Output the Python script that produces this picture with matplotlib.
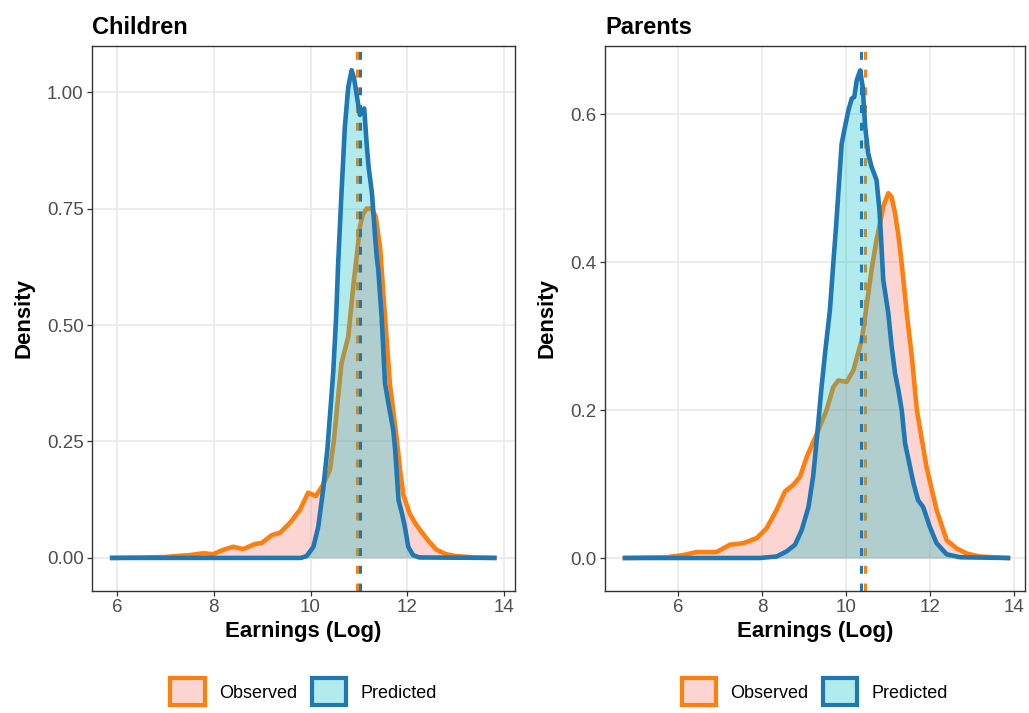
import numpy as np
import matplotlib
matplotlib.use('Agg')
import matplotlib.pyplot as plt
from matplotlib.patches import Patch
from matplotlib.colors import to_rgba

plt.rcParams['font.family'] = ['Liberation Sans', 'DejaVu Sans']

# Children: log earnings density (observed vs predicted)
child_obs_x = [5.90, 6.50, 7.00, 7.20, 7.50, 7.78, 7.99, 8.16, 8.40, 8.61, 8.85, 8.99,
               9.20, 9.37, 9.58, 9.78, 9.95, 10.11, 10.26, 10.40, 10.48, 10.56, 10.64,
               10.78, 10.89, 10.97, 11.02, 11.08, 11.16, 11.27, 11.35, 11.44, 11.54,
               11.64, 11.78, 11.85, 11.92, 12.05, 12.18, 12.30, 12.45, 12.60, 12.80,
               13.00, 13.40, 13.80]
child_obs_y = [0.000, 0.001, 0.002, 0.004, 0.006, 0.010, 0.008, 0.016, 0.024, 0.019, 0.030, 0.032,
               0.049, 0.054, 0.076, 0.103, 0.140, 0.133, 0.157, 0.189, 0.250, 0.335, 0.418,
               0.475, 0.590, 0.661, 0.711, 0.737, 0.750, 0.750, 0.732, 0.665, 0.518,
               0.375, 0.258, 0.190, 0.135, 0.095, 0.072, 0.055, 0.035, 0.018, 0.008,
               0.004, 0.001, 0.000]
child_pred_x = [5.90, 9.80, 9.92, 10.06, 10.16, 10.26, 10.35, 10.42, 10.47, 10.53, 10.57,
                10.64, 10.71, 10.78, 10.85, 10.90, 10.95, 11.02, 11.07, 11.11, 11.16, 11.20,
                11.27, 11.33, 11.37, 11.40, 11.47, 11.54, 11.61, 11.71, 11.75, 11.82, 11.89,
                11.95, 12.02, 12.12, 12.25, 13.80]
child_pred_y = [0.000, 0.000, 0.004, 0.024, 0.067, 0.146, 0.235, 0.330, 0.400, 0.518, 0.630,
                0.783, 0.926, 1.011, 1.047, 1.030, 0.997, 0.951, 0.960, 0.965, 0.890, 0.840,
                0.783, 0.697, 0.645, 0.620, 0.518, 0.375, 0.332, 0.275, 0.232, 0.124, 0.096,
                0.067, 0.024, 0.006, 0.001, 0.000]
child_means = [10.97, 11.02]  # observed, predicted

# Parents
parent_obs_x = [4.73, 5.72, 6.12, 6.44, 6.91, 7.23, 7.55, 7.87, 8.10, 8.34, 8.54, 8.74,
                8.90, 9.06, 9.30, 9.53, 9.69, 9.81, 10.01, 10.17, 10.37, 10.49, 10.60,
                10.72, 10.80, 10.88, 11.00, 11.08, 11.16, 11.24, 11.32, 11.44, 11.56,
                11.68, 11.91, 12.15, 12.39, 12.63, 12.87, 13.18, 13.85]
parent_obs_y = [0.000, 0.001, 0.004, 0.008, 0.008, 0.018, 0.020, 0.027, 0.040, 0.065, 0.090, 0.099,
                0.110, 0.137, 0.168, 0.200, 0.231, 0.240, 0.238, 0.254, 0.295, 0.344, 0.389,
                0.430, 0.452, 0.475, 0.493, 0.488, 0.466, 0.436, 0.398, 0.331, 0.272,
                0.200, 0.123, 0.065, 0.024, 0.013, 0.006, 0.002, 0.000]
parent_pred_x = [4.73, 7.94, 8.34, 8.58, 8.78, 8.94, 9.10, 9.21, 9.31, 9.40, 9.50, 9.61,
                 9.69, 9.75, 9.81, 9.89, 9.97, 10.05, 10.13, 10.19, 10.25, 10.33, 10.39,
                 10.45, 10.52, 10.60, 10.72, 10.79, 10.82, 10.88, 11.00, 11.08, 11.16,
                 11.24, 11.32, 11.40, 11.60, 11.71, 11.83, 11.99, 12.15, 12.39, 12.71, 13.85]
parent_pred_y = [0.000, 0.000, 0.002, 0.009, 0.018, 0.038, 0.069, 0.110, 0.168, 0.225, 0.280, 0.335,
                 0.398, 0.443, 0.493, 0.560, 0.583, 0.605, 0.621, 0.623, 0.646, 0.659, 0.637,
                 0.583, 0.547, 0.529, 0.511, 0.470, 0.440, 0.376, 0.331, 0.286, 0.250,
                 0.227, 0.200, 0.155, 0.101, 0.078, 0.069, 0.042, 0.020, 0.005, 0.001, 0.000]
parent_means = [10.45, 10.35]

x_ticks = [6, 8, 10, 12, 14]
child_y_ticks = [0.00, 0.25, 0.50, 0.75, 1.00]
child_y_labels = ['0.00', '0.25', '0.50', '0.75', '1.00']
parent_y_ticks = [0.0, 0.2, 0.4, 0.6]
parent_y_labels = ['0.0', '0.2', '0.4', '0.6']
groups = ['Observed', 'Predicted']

line_cols = ['#FF7F0E', '#1F77B4']
fill_cols = ['#F8766D', '#00BFC4']


def density_panel(ax, title, series, means, xlim, ylim, yticks, ylabels):
    # each group is drawn fully (fill, outline, mean line) before the next one
    for i, ((x, y), m, lc, fc) in enumerate(zip(series, means, line_cols, fill_cols)):
        z = 2 + i
        ax.fill_between(x, 0, y, color=fc, alpha=0.3, lw=0, zorder=z)
        ax.plot(x, y, color=lc, lw=3.3, solid_joinstyle='round', zorder=z + 0.1)
        ax.axvline(m, color=lc, lw=2.2, ls=(0, (2.6, 3.2)), zorder=z + 0.2)

    ax.set_xlim(*xlim)
    ax.set_ylim(*ylim)
    ax.set_xticks(x_ticks)
    ax.set_yticks(yticks)
    ax.set_yticklabels(ylabels)
    ax.grid(True, color='#EBEBEB', lw=1.3, zorder=0)
    ax.set_axisbelow(True)
    for s in ax.spines.values():
        s.set_color('#333333')
        s.set_linewidth(1.0)
        s.set_zorder(5)
    ax.tick_params(length=3.5, width=0.9, color='#333333', labelcolor='#4D4D4D',
                   labelsize=13.5, pad=2.5)
    ax.set_xlabel('Earnings (Log)', fontsize=16, fontweight='bold', labelpad=3)
    ax.set_ylabel('Density', fontsize=16, fontweight='bold', labelpad=9)
    ax.set_title(title, loc='left', fontsize=17, fontweight='bold', pad=9)

    handles = [Patch(facecolor=to_rgba(fc, 0.3), edgecolor=lc, linewidth=3, label=g)
               for g, lc, fc in zip(groups, line_cols, fill_cols)]
    ax.legend(handles=handles, loc='center', bbox_to_anchor=(0.5, -0.185), ncol=2,
              frameon=False, fontsize=13, handlelength=1.9, handleheight=1.9,
              handletextpad=0.8, columnspacing=0.8)


fig = plt.figure(figsize=(10.29, 7.13), dpi=100)
ax1 = fig.add_axes([92 / 1029, 122 / 713, 423 / 1029, 545 / 713])
ax2 = fig.add_axes([605 / 1029, 122 / 713, 420 / 1029, 545 / 713])

density_panel(ax1, 'Children',
              [(child_obs_x, child_obs_y), (child_pred_x, child_pred_y)],
              child_means, (5.483, 14.227), (-0.071, 1.099),
              child_y_ticks, child_y_labels)
density_panel(ax2, 'Parents',
              [(parent_obs_x, parent_obs_y), (parent_pred_x, parent_pred_y)],
              parent_means, (4.255, 14.255), (-0.0446, 0.692),
              parent_y_ticks, parent_y_labels)

fig.savefig('out.png', dpi=100)
